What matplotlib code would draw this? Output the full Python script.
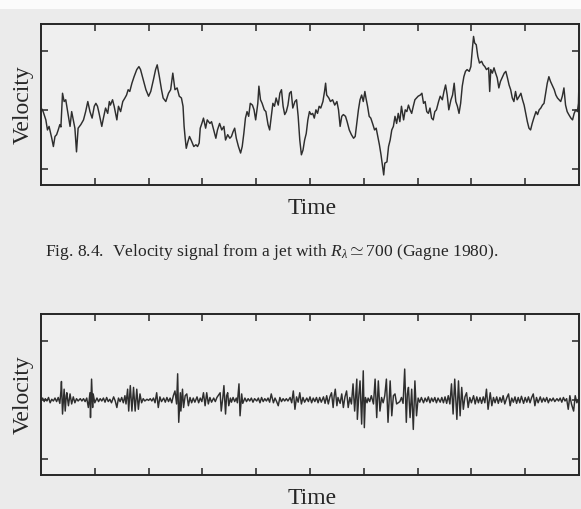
import matplotlib
matplotlib.use("Agg")
import matplotlib.pyplot as plt
from matplotlib.patches import Rectangle

plt.rcParams['font.family'] = ['Liberation Serif', 'DejaVu Serif']
plt.rcParams['mathtext.fontset'] = 'custom'
plt.rcParams['mathtext.rm'] = 'Liberation Serif'
plt.rcParams['mathtext.it'] = 'Liberation Serif:italic'

time_top = [0.01, 0.04, 0.09, 0.12, 0.15, 0.20, 0.23, 0.26, 0.29, 0.32, 0.35, 0.37, 0.40, 0.43, 0.46, 0.51,
            0.54, 0.57, 0.60, 0.63, 0.66, 0.69, 0.74, 0.79, 0.83, 0.87, 0.91, 0.95, 0.99, 1.02, 1.05,
            1.08, 1.13, 1.16, 1.20, 1.24, 1.27, 1.29, 1.33, 1.36, 1.41, 1.44, 1.48, 1.52, 1.56, 1.59,
            1.62, 1.65, 1.69, 1.73, 1.78, 1.82, 1.85, 1.90, 1.95, 2.00, 2.04, 2.09, 2.13, 2.16, 2.20,
            2.24, 2.27, 2.32, 2.37, 2.41,
            2.45, 2.49, 2.53, 2.57, 2.61, 2.64, 2.66, 2.68, 2.70, 2.73, 2.76, 2.79, 2.84, 2.88, 2.91,
            2.94, 2.96, 2.99, 3.02, 3.06, 3.09, 3.14, 3.17, 3.21, 3.25, 3.28, 3.32, 3.36, 3.40, 3.43,
            3.47, 3.51, 3.54, 3.57, 3.60, 3.63, 3.67, 3.71, 3.74, 3.77, 3.80, 3.83, 3.86, 3.89, 3.93,
            3.96, 3.99, 4.03, 4.05, 4.08, 4.11, 4.15, 4.18, 4.22, 4.25, 4.28, 4.31, 4.34, 4.37, 4.41,
            4.44, 4.47, 4.50, 4.53, 4.56, 4.59, 4.62, 4.65, 4.68, 4.72, 4.75, 4.78, 4.81, 4.84, 4.87, 4.90,
            4.93, 4.96, 4.99, 5.02, 5.05, 5.08, 5.11, 5.14, 5.17, 5.20, 5.24, 5.27, 5.29, 5.31, 5.35,
            5.38, 5.42, 5.46, 5.50, 5.53, 5.56, 5.59, 5.62, 5.66, 5.69, 5.73, 5.77, 5.81, 5.84, 5.87,
            5.90, 5.93, 5.96, 5.99, 6.02, 6.04, 6.07, 6.10, 6.13, 6.17, 6.20, 6.23, 6.26, 6.29, 6.32,
            6.35, 6.37, 6.39, 6.43, 6.46, 6.49, 6.52, 6.55, 6.58, 6.61, 6.64, 6.67, 6.70, 6.74, 6.77,
            6.80, 6.83, 6.86, 6.89, 6.92, 6.95, 6.98, 7.01, 7.05, 7.08, 7.11, 7.14, 7.17, 7.20, 7.23,
            7.26, 7.29, 7.32, 7.35, 7.39, 7.42,
            7.46, 7.49, 7.52, 7.55, 7.58, 7.62, 7.65, 7.68, 7.71, 7.74, 7.77, 7.80, 7.83, 7.86, 7.89,
            7.92, 7.96, 7.99, 8.02, 8.04, 8.06, 8.09, 8.12, 8.15, 8.19, 8.22, 8.25, 8.28, 8.32, 8.34,
            8.36, 8.39, 8.42, 8.45, 8.48, 8.51, 8.54, 8.58, 8.61, 8.64, 8.67, 8.70, 8.73, 8.76, 8.79,
            8.82, 8.85, 8.89, 8.92, 8.95, 8.98, 9.01, 9.04, 9.07, 9.10, 9.13, 9.16, 9.20, 9.23, 9.26,
            9.29, 9.32, 9.35, 9.38, 9.41, 9.44, 9.47, 9.50, 9.54, 9.57, 9.60, 9.63, 9.66, 9.69, 9.72,
            9.75, 9.78, 9.81, 9.85, 9.88, 9.91, 9.94, 9.97, 9.99, 10.0]
velocity_top = [0.02, -0.03, -0.17, -0.34, -0.28, -0.48, -0.62, -0.45, -0.42, -0.34, -0.25, -0.29, 0.28, 0.14, 0.17, -0.11,
                -0.28, -0.03, -0.17, -0.31, -0.71, -0.31, -0.25, -0.17, -0.03, 0.14, -0.03, -0.14, 0.06, 0.11, 0.06,
                -0.06, -0.28, -0.14, 0.03, -0.06, 0.14, 0.08, 0.17, 0.06, -0.17, 0.06, -0.03, 0.14, 0.20, 0.25,
                0.34, 0.31, 0.45, 0.56, 0.68, 0.73, 0.68, 0.51, 0.34, 0.23, 0.31, 0.51, 0.68, 0.76, 0.56,
                0.34, 0.20, 0.14, 0.28, 0.34,
                0.62, 0.34, 0.37, 0.23, 0.20, 0.06, -0.28, -0.48, -0.65, -0.54, -0.45, -0.51, -0.62, -0.59, -0.62,
                -0.56, -0.31, -0.23, -0.14, -0.31, -0.17, -0.23, -0.20, -0.34, -0.48, -0.34, -0.23, -0.34, -0.28, -0.51,
                -0.42, -0.48, -0.45, -0.37, -0.31, -0.48, -0.62, -0.73, -0.62, -0.40, -0.14, -0.03, -0.11, 0.11, 0.08,
                0.00, -0.17, 0.11, 0.40, 0.17, 0.11, 0.00, -0.03, -0.25, -0.34, -0.11, 0.11, 0.06, 0.20, 0.08,
                0.28, 0.34, 0.06, -0.08, -0.03, 0.08, 0.28, 0.31, 0.03, 0.14, 0.17, -0.11, -0.51, -0.76, -0.68, -0.51,
                -0.40, -0.17, -0.03, -0.08, -0.06, -0.14, 0.00, -0.06, 0.06, 0.03, 0.14, 0.31, 0.45, 0.25, 0.20,
                0.14, 0.17, 0.08, 0.14, 0.00, -0.28, -0.11, -0.08, -0.11, -0.20, -0.34, -0.42, -0.48, -0.45, -0.23,
                0.00, 0.17, 0.25, 0.14, 0.31, 0.20, 0.06, -0.11, -0.14, -0.25, -0.34, -0.31, -0.45, -0.59, -0.76,
                -0.96, -1.10, -0.90, -0.88, -0.62, -0.51, -0.34, -0.28, -0.11, -0.23, -0.06, -0.20, 0.06, -0.17, 0.00,
                -0.03, 0.08, 0.00, -0.06, 0.06, 0.17, 0.20, 0.23, 0.25, 0.28, 0.11, 0.14, -0.03, -0.06, 0.03,
                -0.14, -0.17, -0.03, 0.00, 0.14, 0.23,
                0.17, 0.31, 0.42, 0.25, 0.00, 0.17, 0.25, 0.45, 0.14, 0.06, -0.06, 0.11, 0.40, 0.56, 0.65,
                0.68, 0.65, 0.73, 1.05, 1.24, 1.13, 1.10, 0.90, 0.79, 0.82, 0.76, 0.73, 0.68, 0.71, 0.31,
                0.68, 0.62, 0.71, 0.62, 0.54, 0.37, 0.48, 0.56, 0.62, 0.65, 0.54, 0.42, 0.34, 0.20, 0.14,
                0.31, 0.17, 0.23, 0.28, 0.17, 0.08, -0.06, -0.20, -0.31, -0.34, -0.23, -0.14, -0.03, -0.08, 0.00,
                0.03, 0.08, 0.11, 0.28, 0.45, 0.56, 0.48, 0.42, 0.34, 0.25, 0.20, 0.17, 0.14, 0.23, 0.37,
                0.08, -0.03, -0.08, -0.14, -0.17, -0.06, 0.00, -0.03, 0.11, 0.51]

# Lower trace: intermittent burst signal
time_bottom = [0.00, 0.03, 0.06, 0.08, 0.11, 0.14, 0.17, 0.20, 0.23, 0.26,
               0.29, 0.32, 0.35, 0.37, 0.38, 0.40, 0.43, 0.45, 0.47, 0.48,
               0.51, 0.54, 0.57, 0.60, 0.63, 0.66, 0.69, 0.73, 0.76, 0.79,
               0.82, 0.85, 0.88, 0.91, 0.92, 0.94, 0.96, 0.97, 1.00, 1.04,
               1.07, 1.10, 1.13, 1.16, 1.19, 1.22, 1.25, 1.28, 1.31, 1.35,
               1.38, 1.41, 1.44, 1.47, 1.50, 1.53, 1.56, 1.58, 1.61, 1.63,
               1.66, 1.69, 1.72, 1.75, 1.78, 1.81, 1.84, 1.87, 1.90, 1.93,
               1.97, 2.00, 2.03, 2.06, 2.09, 2.12, 2.15, 2.18, 2.21, 2.24,
               2.28, 2.31, 2.34, 2.37, 2.40, 2.43, 2.46, 2.49, 2.52, 2.54,
               2.56, 2.59, 2.60, 2.63, 2.65, 2.68, 2.71, 2.74, 2.77, 2.80,
               2.83, 2.86, 2.90, 2.93, 2.96, 2.99, 3.02, 3.05, 3.08, 3.11,
               3.14, 3.17, 3.21, 3.24, 3.27,
               3.33, 3.35, 3.38, 3.40, 3.43, 3.45, 3.47, 3.49, 3.52, 3.54,
               3.57, 3.60, 3.63, 3.65, 3.68, 3.70, 3.73, 3.75, 3.79, 3.82,
               3.85, 3.88, 3.91, 3.94, 3.97, 4.01, 4.04, 4.07, 4.10, 4.13,
               4.16, 4.19, 4.22, 4.25, 4.28, 4.32, 4.35, 4.38, 4.41, 4.44,
               4.47, 4.50, 4.53, 4.56, 4.59, 4.63, 4.66, 4.69, 4.72, 4.75,
               4.78, 4.81, 4.84, 4.87, 4.90, 4.94, 4.97, 5.00, 5.03, 5.06,
               5.09, 5.12, 5.15, 5.18, 5.21, 5.25, 5.28, 5.31, 5.34, 5.37,
               5.40, 5.43, 5.45, 5.47, 5.50, 5.52, 5.56, 5.59, 5.62, 5.65,
               5.68, 5.71, 5.74, 5.77, 5.80, 5.83, 5.87, 5.88, 5.91, 5.93,
               5.96, 5.99, 6.01, 6.03, 6.06, 6.08, 6.11, 6.14, 6.18, 6.21,
               6.24, 6.27, 6.30, 6.33, 6.36, 6.39, 6.42, 6.45, 6.49, 6.52,
               6.55, 6.58, 6.61,
               6.67, 6.70, 6.73, 6.76, 6.79, 6.81, 6.83, 6.86, 6.89, 6.92,
               6.95, 6.98, 7.01, 7.04, 7.07, 7.11, 7.14, 7.17, 7.20, 7.23,
               7.26, 7.29, 7.32, 7.35, 7.38, 7.42, 7.45, 7.48, 7.51, 7.54,
               7.57, 7.60, 7.63, 7.66, 7.69, 7.73, 7.76, 7.79, 7.82, 7.85,
               7.88, 7.91, 7.94, 7.97, 8.00, 8.04, 8.07, 8.10, 8.13, 8.16,
               8.19, 8.22, 8.25, 8.28, 8.31, 8.35, 8.38, 8.41, 8.44, 8.47,
               8.50, 8.53, 8.56, 8.59, 8.62, 8.66, 8.69, 8.72, 8.75, 8.78,
               8.81, 8.84, 8.87, 8.90, 8.93, 8.97, 9.00, 9.03, 9.06, 9.09,
               9.12, 9.15, 9.18, 9.21, 9.24, 9.28, 9.31, 9.34, 9.37, 9.40,
               9.43, 9.46, 9.49, 9.52, 9.55, 9.59, 9.62, 9.65, 9.68, 9.71,
               9.74, 9.77, 9.80, 9.83, 9.86, 9.90, 9.93, 9.96, 9.99]
velocity_bottom = [0.00, 0.03, -0.03, 0.02, -0.02, 0.04, -0.05, 0.01, -0.02, 0.03,
                   -0.03, 0.04, -0.06, 0.15, 0.31, -0.24, 0.18, -0.19, 0.07, 0.12,
                   -0.10, 0.10, -0.07, 0.05, -0.05, 0.02, -0.02, 0.02, -0.02, 0.02,
                   -0.03, 0.03, -0.13, 0.12, -0.30, 0.35, -0.13, 0.10, -0.05, 0.03,
                   -0.03, 0.02, -0.02, 0.03, -0.04, 0.04, -0.03, 0.01, -0.05, 0.05,
                   -0.02, -0.13, 0.03, -0.03, 0.04, -0.05, 0.07, -0.07, 0.18, -0.19,
                   0.24, -0.19, 0.21, -0.19, 0.18, -0.16, 0.10, -0.05, 0.02, -0.02,
                   0.01, -0.01, 0.02, -0.02, 0.03, -0.05, 0.12, -0.13, 0.05, -0.03,
                   0.03, -0.04, 0.04, -0.03, 0.03, -0.05, 0.07, 0.15, -0.07, 0.44,
                   -0.38, 0.12, -0.19, 0.18, -0.13, 0.07, 0.10, -0.10, 0.04, -0.05,
                   0.03, -0.04, 0.05, -0.05, 0.03, -0.03, 0.12, -0.10, 0.12, -0.07,
                   0.04, -0.04, 0.03, -0.03, 0.04,
                   0.12, -0.19, 0.04, 0.24, -0.24, 0.07, 0.12, -0.10, 0.03, -0.04,
                   0.04, -0.03, 0.03, -0.05, 0.27, -0.27, 0.10, -0.06, 0.03, -0.03,
                   0.02, -0.02, 0.03, -0.04, 0.02, -0.02, 0.03, -0.05, 0.04, -0.03,
                   0.02, -0.02, 0.03, -0.04, 0.10, -0.05, 0.03, -0.03, -0.10, 0.04,
                   -0.03, 0.02, -0.02, 0.02, -0.02, 0.04, -0.05, 0.15, -0.16, 0.05,
                   -0.04, 0.12, -0.07, 0.04, -0.04, 0.03, -0.03, 0.05, -0.05, 0.03,
                   -0.03, 0.04, -0.05, 0.04, -0.04, 0.05, -0.06, 0.07, -0.07, 0.05,
                   0.12, -0.13, 0.07, 0.18, -0.10, 0.04, -0.06, 0.10, -0.13, 0.05,
                   0.15, -0.13, 0.04, -0.07, 0.27, -0.19, 0.35, -0.33, 0.10, 0.32,
                   -0.41, 0.49, -0.47, 0.04, -0.05, 0.03, -0.03, 0.07, -0.07, 0.35,
                   -0.30, 0.32, -0.19, 0.04, -0.05, 0.07, 0.35, -0.38, 0.32, -0.27,
                   0.07, 0.10, -0.07,
                   -0.03, 0.04, -0.06, 0.52, -0.38, 0.10, 0.21, -0.30, 0.18, -0.50,
                   0.32, -0.27, 0.03, -0.04, 0.04, -0.05, 0.03, -0.03, 0.05, -0.05,
                   0.03, -0.03, 0.04, -0.05, 0.03, -0.04, 0.04, -0.05, 0.05, -0.06,
                   0.07, -0.07, 0.27, -0.24, 0.35, -0.33, 0.32, -0.27, 0.21, -0.16,
                   0.05, 0.12, -0.13, 0.04, -0.05, 0.07, -0.07, 0.05, -0.05, 0.04,
                   -0.06, 0.05, -0.05, 0.18, -0.16, 0.12, -0.10, 0.04, -0.05, 0.05,
                   -0.06, 0.04, -0.04, 0.07, -0.07, 0.04, 0.10, -0.10, 0.03, -0.04,
                   0.05, -0.06, 0.04, -0.05, 0.06, -0.06, 0.04, -0.04, 0.05, -0.05,
                   0.04, 0.10, -0.10, 0.04, -0.05, 0.05, -0.04, 0.03, -0.03, 0.04,
                   -0.05, 0.02, -0.02, 0.03, -0.03, 0.02, -0.02, 0.03, -0.04, 0.04,
                   -0.02, 0.02, -0.16, 0.07, -0.07, -0.19, 0.07, -0.05, 0.01]

x_ticks = [1, 2, 3, 4, 5, 6, 7, 8, 9]
y_ticks = [-1, 0, 1]
caption = r'Fig. 8.4.  Velocity signal from a jet with $R_\lambda \simeq 700$ (Gagne 1980).'

paper = '#ebebeb'
ink = '#262626'

fig = plt.figure(figsize=(5.81, 5.09), dpi=100, facecolor=paper)
fig.patches.append(Rectangle((0, 1 - 9 / 509), 1, 9 / 509, transform=fig.transFigure,
                             facecolor='#fbfbfb', edgecolor='none', zorder=0))

ax_top = fig.add_axes([41 / 581, 1 - 185 / 509, 538 / 581, 161 / 509])
ax_bot = fig.add_axes([41 / 581, 1 - 475 / 509, 538 / 581, 161 / 509])

for ax, t, v in [(ax_top, time_top, velocity_top), (ax_bot, time_bottom, velocity_bottom)]:
    ax.set_facecolor('#efefef')
    ax.plot(t, v, color='#2e2e2e', lw=1.05)
    ax.set_xlim(0, 10)
    ax.set_ylim(-1.27, 1.45)
    ax.set_xticks(x_ticks)
    ax.set_yticks(y_ticks)
    ax.tick_params(direction='in', length=5, width=1.1, color=ink,
                   top=True, right=True, labelbottom=False, labelleft=False)
    for s in ax.spines.values():
        s.set_linewidth(1.4)
        s.set_color(ink)

# axis titles as placed in the scan
fig.text(23 / 581, 1 - 105 / 509, 'Velocity', rotation=90, ha='center', va='center', fontsize=17, color=ink)
fig.text(312 / 581, 1 - 208 / 509, 'Time', ha='center', va='center', fontsize=17, color=ink)
fig.text(23 / 581, 1 - 395 / 509, 'Velocity', rotation=90, ha='center', va='center', fontsize=17, color=ink)
fig.text(312 / 581, 1 - 499 / 509, 'Time', ha='center', va='center', fontsize=17, color=ink)
fig.text(45 / 581, 1 - 252 / 509, caption, ha='left', va='center', fontsize=12.6, color=ink)

fig.savefig('out.png', dpi=100, facecolor=paper)
